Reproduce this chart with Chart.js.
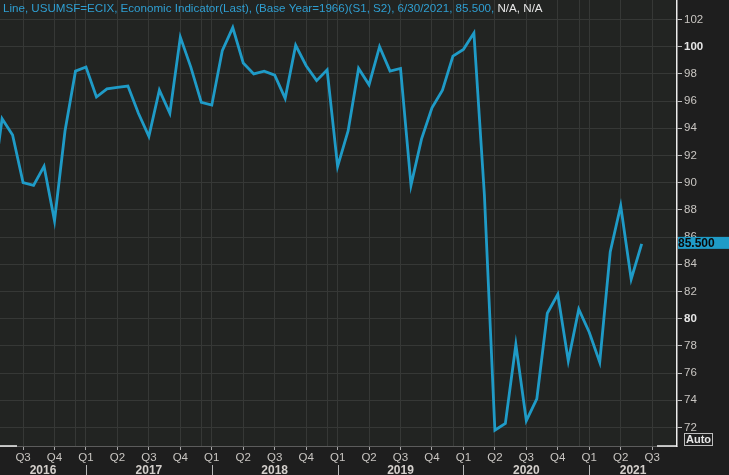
<!DOCTYPE html>
<html>
<head>
<meta charset="utf-8">
<script src="https://cdn.jsdelivr.net/npm/chart.js@4.4.1/dist/chart.umd.min.js"></script>
<style>
  html, body { margin: 0; padding: 0; background: #1e1e1e; }
  #wrap { width: 729px; height: 475px; position: relative; }
</style>
</head>
<body>
<div id="wrap"><canvas id="chart"></canvas></div>
<script>
/* ---- data: U. Michigan sentiment, monthly, Apr 2016 .. Jun 2021 ---- */
const months = [
  '2016-04', '2016-05', '2016-06', '2016-07', '2016-08', '2016-09', '2016-10', '2016-11', '2016-12',
  '2017-01', '2017-02', '2017-03', '2017-04', '2017-05', '2017-06', '2017-07', '2017-08', '2017-09', '2017-10', '2017-11', '2017-12',
  '2018-01', '2018-02', '2018-03', '2018-04', '2018-05', '2018-06', '2018-07', '2018-08', '2018-09', '2018-10', '2018-11', '2018-12',
  '2019-01', '2019-02', '2019-03', '2019-04', '2019-05', '2019-06', '2019-07', '2019-08', '2019-09', '2019-10', '2019-11', '2019-12',
  '2020-01', '2020-02', '2020-03', '2020-04', '2020-05', '2020-06', '2020-07', '2020-08', '2020-09', '2020-10', '2020-11', '2020-12',
  '2021-01', '2021-02', '2021-03', '2021-04', '2021-05', '2021-06',
];
const sentiment = [
  89.0, 94.7, 93.5, 90.0, 89.8, 91.2, 87.2, 93.8, 98.2,
  98.5, 96.3, 96.9, 97.0, 97.1, 95.1, 93.4, 96.8, 95.1, 100.7, 98.5, 95.9,
  95.7, 99.7, 101.4, 98.8, 98.0, 98.2, 97.9, 96.2, 100.1, 98.6, 97.5, 98.3,
  91.2, 93.8, 98.4, 97.2, 100.0, 98.2, 98.4, 89.8, 93.2, 95.5, 96.8, 99.3,
  99.8, 101.0, 89.1, 71.8, 72.3, 78.1, 72.5, 74.1, 80.4, 81.8, 76.9, 80.7,
  79.0, 76.8, 84.9, 88.3, 82.9, 85.5,
];
const years = [2016, 2017, 2018, 2019, 2020, 2021];
const quarterLabels = ['Q1', 'Q2', 'Q3', 'Q4'];
const yTicks = [72, 74, 76, 78, 80, 82, 84, 86, 88, 90, 92, 94, 96, 98, 100, 102];
const boldTicks = [80, 100];

const TITLE_MAIN = 'Line, USUMSF=ECIX, Economic Indicator(Last), (Base Year=1966)(S1, S2), 6/30/2021, 85.500, ';
const TITLE_TAIL = 'N/A, N/A';

/* ---- look ---- */
const C = {
  bg: '#1e1e1e',
  plot: '#222422',
  grid: '#363836',
  line: '#1f9bc7',
  text: '#c9c6c2',
  bright: '#e6e6e6',
  title: '#2f9fd2',
};
const FONT = '"Liberation Sans", Arial, sans-serif';

/* month index helpers (index 0 = first entry of months) */
const [startY, startM] = months[0].split('-').map(Number);
const idxOf = (y, m) => (y - startY) * 12 + (m - startM);
const monthOf = (i) => ((startM - 1 + i) % 12 + 12) % 12 + 1;

const X_MIN = 0.8;
const X_MAX = 65.37;

const points = sentiment.map((v, i) => ({ x: i, y: v }));
const isBold = (c) => !!(c && c.tick && boldTicks.includes(c.tick.value));

/* ---- drawing extras ---- */
const extras = {
  id: 'extras',
  beforeDraw(chart) {
    const { ctx, chartArea: a } = chart;
    ctx.save();
    ctx.fillStyle = C.bg;
    ctx.fillRect(0, 0, chart.width, chart.height);
    ctx.fillStyle = C.plot;
    ctx.fillRect(a.left, a.top, a.right - a.left, a.bottom - a.top);
    ctx.restore();
  },
  beforeDatasetsDraw(chart) {
    // extra vertical line a month before every year start
    const { ctx, chartArea: a, scales: { x } } = chart;
    ctx.save();
    ctx.strokeStyle = C.grid;
    ctx.lineWidth = 1;
    for (let i = Math.ceil(X_MIN); i <= X_MAX; i++) {
      if (monthOf(i) !== 12) continue;
      const px = Math.round(x.getPixelForValue(i)) + 0.5;
      ctx.beginPath(); ctx.moveTo(px, a.top); ctx.lineTo(px, a.bottom); ctx.stroke();
    }
    ctx.restore();
  },
  afterDraw(chart) {
    const { ctx, chartArea: a, scales: { x, y } } = chart;
    ctx.save();

    // title
    ctx.font = `11.6px ${FONT}`;
    ctx.textBaseline = 'alphabetic';
    ctx.textAlign = 'left';
    ctx.fillStyle = C.title;
    ctx.fillText(TITLE_MAIN, 3, 12);
    const w = ctx.measureText(TITLE_MAIN).width;
    ctx.fillStyle = C.bright;
    ctx.fillText(TITLE_TAIL, 3 + w, 12);

    // years row
    ctx.strokeStyle = '#b8b8b8';
    ctx.lineWidth = 1;
    ctx.font = `bold 12px ${FONT}`;
    ctx.textAlign = 'center';
    ctx.fillStyle = '#d4d0cc';
    years.forEach((yr) => {
      const s = Math.max(a.left, x.getPixelForValue(idxOf(yr, 1)));
      const e = Math.min(a.right, x.getPixelForValue(idxOf(yr + 1, 1)));
      if (e <= s) return;
      ctx.fillText(String(yr), (s + e) / 2, a.bottom + 28);
      const sep = x.getPixelForValue(idxOf(yr, 1));
      if (sep > a.left && sep < a.right) {
        const px = Math.round(sep) + 0.5;
        ctx.beginPath(); ctx.moveTo(px, a.bottom + 19); ctx.lineTo(px, chart.height); ctx.stroke();
      }
    });

    // white markers on the bottom edge
    ctx.strokeStyle = '#f0f0f0';
    ctx.lineWidth = 1.5;
    ctx.beginPath();
    ctx.moveTo(a.left, a.bottom); ctx.lineTo(a.left + 17, a.bottom);
    ctx.moveTo(a.right - 20, a.bottom); ctx.lineTo(a.right, a.bottom);
    ctx.stroke();

    // last value tag
    const last = sentiment[sentiment.length - 1];
    const py = y.getPixelForValue(last) - 1;
    ctx.fillStyle = C.line;
    ctx.fillRect(a.right + 1, py - 6, chart.width - a.right - 1, 12);
    ctx.fillStyle = '#0a0a0a';
    ctx.font = `bold 12px ${FONT}`;
    ctx.textAlign = 'left';
    ctx.textBaseline = 'middle';
    ctx.fillText(last.toFixed(3), a.right + 1, py + 0.5);

    // "Auto" button
    ctx.strokeStyle = '#bdbdbd';
    ctx.lineWidth = 1;
    ctx.strokeRect(a.right + 7.5, a.bottom - 12.5, 28, 12);
    ctx.fillStyle = C.bright;
    ctx.font = `bold 11px ${FONT}`;
    ctx.fillText('Auto', a.right + 9, a.bottom - 6);

    ctx.restore();
  },
};

new Chart(document.getElementById('chart'), {
  type: 'line',
  data: {
    datasets: [{
      data: points,
      borderColor: C.line,
      borderWidth: 2.8,
      pointRadius: 0,
      tension: 0,
      fill: false,
    }],
  },
  options: {
    responsive: true,
    maintainAspectRatio: false,
    animation: false,
    layout: { padding: 0 },
    plugins: { legend: { display: false }, tooltip: { enabled: false } },
    scales: {
      x: {
        type: 'linear',
        min: X_MIN,
        max: X_MAX,
        afterBuildTicks(scale) {
          const t = [];
          for (let i = Math.ceil(X_MIN); i <= X_MAX; i++) {
            if ((monthOf(i) - 1) % 3 === 0) t.push({ value: i });
          }
          scale.ticks = t;
        },
        afterFit(scale) {
          scale.height = 29;
          scale.paddingLeft = 0;
          scale.paddingRight = 0;
        },
        ticks: {
          autoSkip: false,
          maxRotation: 0,
          padding: 1,
          color: C.text,
          font: { family: FONT, size: 11.5 },
          callback: (v) => quarterLabels[Math.floor((monthOf(v) - 1) / 3)],
        },
        grid: { color: C.grid, tickColor: '#a8a8a8', tickLength: 4 },
        border: { color: '#5c5c5c', width: 1 },
      },
      y: {
        position: 'right',
        min: 70.64,
        max: 103.43,
        afterBuildTicks(scale) { scale.ticks = yTicks.map((v) => ({ value: v })); },
        afterFit(scale) {
          scale.width = 52;
          scale.paddingTop = 0;
          scale.paddingBottom = 0;
        },
        ticks: {
          padding: 2,
          color: (c) => isBold(c) ? C.bright : C.text,
          font: (c) => ({ family: FONT, size: 11.5, weight: isBold(c) ? 'bold' : 'normal' }),
        },
        grid: { color: C.grid, tickColor: '#bcbcbc', tickLength: 5 },
        border: { color: '#ececec', width: 1.5 },
      },
    },
  },
  plugins: [extras],
});
</script>
</body>
</html>
